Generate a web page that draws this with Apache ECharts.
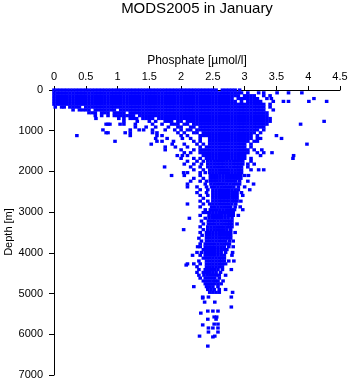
<!DOCTYPE html>
<html>
<head>
<meta charset="utf-8">
<script src="https://cdn.jsdelivr.net/npm/echarts@6/dist/echarts.min.js"></script>
<style>
  html, body { margin: 0; padding: 0; background: #fff; }
  #chart { width: 350px; height: 384px; }
</style>
</head>
<body>
<div id="chart"></div>
<script>
// Sampling depths (m) of the January phosphate profiles
const depthLevels = [0,70,140,210,280,350,420,490,560,630,700,770,840,910,980,1050,1120,1190,1260,1330,1400,1470,1540,1610,1680,1750,1820,1890,1960,2030,2100,2170,2240,2310,2380,2450,2520,2590,2660,2730,2800,2870,2940,3010,3080,3150,3220,3290,3360,3430,3500,3570,3640,3710,3780,3850,3920,3990,4060,4130,4200,4270,4340,4410,4480,4550,4620,4690,4760,4830,4900,4970];

// Phosphate observations (µmol/l) found at each depth level
const phosphateAtLevel = [
  [0,.05,.1,.15,.2,.25,.3,.35,.4,.45,.5,.55,.6,.65,.7,.75,.8,.85,.9,.95,1,1.05,1.1,1.15,1.2,1.25,1.3,1.35,1.4,1.45,1.5,1.55,1.6,1.65,1.7,1.75,1.8,1.85,1.9,1.95,2,2.05,2.1,2.15,2.2,2.25,2.3,2.35,2.4,2.45,2.5,2.55,2.65,2.7,2.75,2.8,2.85,2.92],
  [0,.05,.1,.15,.2,.25,.3,.35,.4,.45,.5,.55,.6,.65,.7,.75,.8,.85,.9,.95,1,1.05,1.1,1.15,1.2,1.25,1.3,1.35,1.4,1.45,1.5,1.55,1.6,1.65,1.7,1.75,1.8,1.85,1.9,1.95,2,2.05,2.1,2.15,2.2,2.25,2.3,2.35,2.4,2.45,2.5,2.55,2.6,2.65,2.7,2.75,2.8,2.85,2.9,2.95,3.05,3.22,3.3,3.51,3.69,3.9],
  [0,.05,.1,.15,.2,.25,.3,.35,.4,.45,.5,.55,.6,.65,.7,.75,.8,.85,.9,.95,1,1.05,1.1,1.15,1.2,1.25,1.3,1.35,1.4,1.45,1.5,1.55,1.6,1.65,1.7,1.75,1.8,1.85,1.9,1.95,2,2.05,2.1,2.15,2.2,2.25,2.3,2.35,2.4,2.45,2.5,2.55,2.6,2.65,2.7,2.75,2.8,2.85,2.9,3,3.05,3.1,3.15,3.3,3.4],
  [0,.05,.1,.15,.2,.25,.3,.35,.4,.45,.5,.55,.6,.65,.7,.75,.8,.85,.9,.95,1,1.05,1.1,1.15,1.2,1.25,1.3,1.35,1.4,1.45,1.5,1.55,1.6,1.65,1.7,1.75,1.8,1.85,1.9,1.95,2,2.05,2.1,2.15,2.2,2.25,2.3,2.35,2.4,2.45,2.5,2.55,2.6,2.65,2.7,2.75,2.8,2.9,2.95,3,3.05,3.1,3.15,3.2,3.35,3.42,4.09],
  [0,.05,.1,.15,.2,.25,.3,.35,.4,.45,.5,.55,.6,.65,.7,.75,.8,.85,.9,.95,1,1.05,1.1,1.15,1.2,1.25,1.3,1.35,1.4,1.45,1.5,1.55,1.6,1.65,1.7,1.75,1.8,1.85,1.9,1.95,2,2.05,2.1,2.15,2.2,2.25,2.3,2.35,2.4,2.45,2.5,2.55,2.6,2.65,2.7,2.75,2.8,2.85,2.95,3.05,3.1,3.15,3.2,3.25,3.45,3.61,3.69,4.01,4.29],
  [0,.05,.1,.15,.2,.25,.3,.35,.4,.45,.5,.55,.6,.65,.7,.75,.8,.85,.9,.95,1,1.05,1.1,1.15,1.2,1.25,1.3,1.35,1.4,1.45,1.5,1.55,1.6,1.65,1.7,1.75,1.8,1.85,1.9,1.95,2,2.05,2.1,2.15,2.2,2.25,2.3,2.35,2.4,2.45,2.5,2.55,2.6,2.65,2.7,2.75,2.8,2.85,2.9,2.95,3,3.05,3.1,3.15,3.2,3.25,3.3,3.4],
  [.02,.12,.16,.25,.3,.35,.4,.5,.55,.6,.65,.7,.75,.8,.85,.9,.95,1,1.05,1.1,1.15,1.2,1.25,1.3,1.35,1.4,1.45,1.5,1.55,1.6,1.65,1.7,1.75,1.8,1.85,1.9,1.95,2,2.05,2.1,2.15,2.2,2.25,2.3,2.35,2.4,2.45,2.5,2.55,2.6,2.65,2.7,2.75,2.8,2.85,2.9,2.95,3,3.05,3.1,3.15,3.2,3.25,3.3,3.4],
  [.3,.4,.45,.5,.55,.65,.7,.75,.8,.85,.9,.95,1.05,1.1,1.15,1.2,1.25,1.3,1.35,1.4,1.45,1.5,1.55,1.6,1.65,1.7,1.75,1.8,1.85,1.9,1.95,2,2.05,2.1,2.15,2.2,2.25,2.3,2.35,2.4,2.45,2.5,2.55,2.6,2.65,2.7,2.75,2.8,2.85,2.9,2.95,3,3.05,3.1,3.15,3.2,3.25,3.3,3.45],
  [.55,.6,.65,.75,.8,.85,.95,1,1.05,1.1,1.2,1.25,1.3,1.35,1.4,1.45,1.5,1.55,1.6,1.65,1.7,1.75,1.8,1.85,1.9,1.95,2,2.05,2.1,2.15,2.2,2.25,2.3,2.35,2.4,2.45,2.5,2.55,2.6,2.65,2.7,2.75,2.8,2.85,2.9,2.95,3,3.05,3.1,3.15,3.2,3.25,3.3,3.35],
  [.65,.75,.85,.95,1,1.05,1.1,1.15,1.2,1.25,1.35,1.4,1.45,1.5,1.55,1.6,1.65,1.7,1.75,1.8,1.85,1.9,1.95,2,2.05,2.1,2.15,2.2,2.25,2.3,2.35,2.4,2.45,2.5,2.55,2.6,2.65,2.7,2.75,2.8,2.85,2.9,2.95,3,3.05,3.1,3.15,3.2,3.25,3.3,3.35],
  [.66,1.02,1.1,1.2,1.25,1.3,1.4,1.45,1.5,1.55,1.65,1.7,1.75,1.8,1.85,1.9,1.95,2,2.05,2.1,2.15,2.2,2.25,2.3,2.35,2.4,2.45,2.5,2.55,2.6,2.65,2.7,2.75,2.8,2.85,2.9,2.95,3,3.05,3.1,3.15,3.2,3.25,3.3,3.35,3.4],
  [1.1,1.31,1.5,1.6,1.75,1.8,1.85,1.95,2,2.1,2.15,2.2,2.25,2.3,2.35,2.4,2.45,2.5,2.55,2.6,2.65,2.7,2.75,2.8,2.85,2.9,2.95,3,3.05,3.1,3.15,3.2,3.25,3.3,3.35,3.4,4.25],
  [.82,.85,.88,1.04,1.1,1.28,1.55,1.7,1.85,1.9,1.95,2.05,2.1,2.2,2.25,2.3,2.35,2.4,2.45,2.5,2.55,2.6,2.65,2.7,2.75,2.8,2.85,2.9,2.95,3,3.05,3.1,3.15,3.2,3.25,3.3,3.35,3.88],
  [1.28,1.45,1.6,1.8,1.95,2,2.15,2.2,2.3,2.35,2.4,2.45,2.5,2.55,2.6,2.65,2.7,2.75,2.8,2.85,2.9,2.95,3,3.05,3.1,3.15,3.2,3.25,3.3],
  [.77,1.2,1.34,1.41,1.55,1.75,1.9,2,2.1,2.15,2.25,2.3,2.35,2.4,2.45,2.5,2.55,2.6,2.65,2.7,2.75,2.8,2.85,2.9,2.95,3,3.05,3.1,3.15,3.2,3.3],
  [.82,.85,1.12,1.2,1.55,1.62,1.95,2.05,2.2,2.25,2.35,2.4,2.45,2.5,2.55,2.6,2.65,2.7,2.75,2.8,2.85,2.9,2.95,3,3.05,3.1,3.15,3.25],
  [.36,1.2,1.62,1.7,2,2.1,2.3,2.35,2.4,2.45,2.5,2.55,2.6,2.65,2.7,2.75,2.8,2.85,2.9,2.95,3,3.05,3.1,3.2,3.5],
  [1.6,1.78,2.02,2.15,2.3,2.45,2.5,2.55,2.6,2.65,2.7,2.75,2.8,2.85,2.9,2.95,3,3.05,3.1,3.2,3.25,3.58],
  [.96,1.62,1.7,1.88,2.2,2.3,2.45,2.5,2.55,2.6,2.65,2.7,2.75,2.8,2.85,2.9,2.95,3,3.05,3.15,3.2],
  [1.53,1.86,2.05,2.25,2.35,2.45,2.5,2.55,2.6,2.65,2.7,2.75,2.8,2.85,2.9,2.95,3,3.1,3.98],
  [1.75,1.91,2.1,2.3,2.4,2.45,2.5,2.55,2.6,2.65,2.7,2.75,2.8,2.85,2.9,2.95,3,3.1],
  [1.75,2,2.2,2.3,2.35,2.4,2.45,2.5,2.55,2.6,2.65,2.7,2.75,2.8,2.85,2.9,2.95,3,3.05,3.15,3.27],
  [2.05,2.15,2.3,2.35,2.4,2.45,2.5,2.55,2.6,2.65,2.7,2.75,2.8,2.85,2.9,2.95,3,3.05,3.2,3.3,3.43],
  [1.94,2.02,2.1,2.35,2.4,2.45,2.5,2.55,2.6,2.65,2.7,2.75,2.8,2.85,2.9,2.95,3,3.25,3.77],
  [2,2.2,2.3,2.4,2.45,2.5,2.55,2.6,2.65,2.7,2.75,2.8,2.85,2.9,2.95,3,3.1,3.76],
  [2.1,2.25,2.35,2.42,2.47,2.52,2.57,2.62,2.67,2.72,2.77,2.82,2.87,2.92,2.97,3.1],
  [2.05,2.2,2.32,2.42,2.47,2.52,2.57,2.62,2.67,2.72,2.77,2.82,2.87,2.92,2.97,3.05,3.15],
  [1.74,2.15,2.3,2.42,2.47,2.52,2.57,2.62,2.67,2.72,2.77,2.82,2.87,2.91,2.95,3.05],
  [2.2,2.35,2.45,2.5,2.55,2.6,2.65,2.7,2.75,2.8,2.85,2.9,2.95,3.1,3.22,3.3],
  [2.04,2.1,2.3,2.38,2.45,2.5,2.55,2.6,2.65,2.7,2.75,2.8,2.85,2.9,2.95],
  [1.85,2.05,2.3,2.46,2.51,2.56,2.61,2.66,2.71,2.76,2.81,2.86,2.9,2.94,3,3.06],
  [2.2,2.35,2.46,2.51,2.56,2.61,2.66,2.71,2.76,2.81,2.86,2.9,2.94],
  [2.15,2.3,2.4,2.46,2.51,2.56,2.61,2.66,2.71,2.76,2.81,2.86,2.92,3.05],
  [2.1,2.38,2.47,2.52,2.57,2.62,2.67,2.72,2.77,2.82,2.87,2.92,3.14],
  [2.1,2.25,2.4,2.48,2.53,2.58,2.63,2.68,2.73,2.78,2.83,2.9,3],
  [2.3,2.42,2.5,2.55,2.6,2.65,2.7,2.75,2.8,2.85,2.9,3.08],
  [2.25,2.4,2.5,2.55,2.6,2.65,2.7,2.75,2.8,2.84,2.88,2.95],
  [2.3,2.42,2.5,2.55,2.6,2.65,2.7,2.75,2.8,2.84,2.88,2.97],
  [2.35,2.5,2.55,2.6,2.65,2.7,2.75,2.8,2.84,2.88],
  [2.3,2.42,2.5,2.55,2.6,2.65,2.7,2.75,2.8,2.84,2.88,2.94],
  [2.1,2.35,2.45,2.5,2.55,2.6,2.65,2.7,2.75,2.8,2.86],
  [2.3,2.48,2.53,2.58,2.63,2.68,2.73,2.78,2.85,2.93],
  [2.38,2.46,2.51,2.56,2.61,2.66,2.71,2.76,2.8,2.84,2.97],
  [2.35,2.4,2.45,2.5,2.55,2.6,2.65,2.7,2.75,2.78,2.82],
  [2.3,2.44,2.49,2.54,2.59,2.64,2.69,2.74,2.78,2.82,2.9],
  [2.13,2.38,2.44,2.49,2.54,2.59,2.64,2.69,2.74,2.8],
  [2.32,2.43,2.48,2.53,2.58,2.63,2.68,2.73,2.77,2.8],
  [2.35,2.43,2.48,2.53,2.58,2.63,2.68,2.73,2.77,2.8,2.88],
  [2.3,2.42,2.47,2.52,2.57,2.62,2.67,2.72,2.76,2.8],
  [2.04,2.35,2.42,2.47,2.52,2.57,2.62,2.67,2.72,2.78],
  [2.3,2.4,2.45,2.5,2.55,2.6,2.65,2.7,2.74,2.78,2.85],
  [2.33,2.4,2.45,2.5,2.55,2.6,2.65,2.7,2.74,2.78],
  [2.28,2.4,2.45,2.5,2.55,2.6,2.65,2.7,2.74,2.78],
  [2.32,2.4,2.45,2.5,2.55,2.6,2.65,2.7,2.76,2.82],
  [2.3,2.38,2.43,2.48,2.53,2.58,2.63,2.68,2.72,2.76],
  [2.26,2.3,2.38,2.43,2.48,2.53,2.58,2.63,2.68,2.75,2.82],
  [2.35,2.38,2.43,2.48,2.53,2.58,2.63,2.68,2.72],
  [2.25,2.32,2.38,2.43,2.48,2.53,2.58,2.63,2.7,2.81],
  [2.18,2.3,2.38,2.43,2.48,2.53,2.58,2.63,2.68,2.8],
  [2.35,2.4,2.45,2.5,2.55,2.6,2.64,2.68],
  [2.28,2.4,2.45,2.5,2.55,2.6,2.64,2.68,2.75,2.83],
  [2.1,2.2,2.3,2.4,2.45,2.5,2.55,2.6,2.65,2.7],
  [2.25,2.4,2.45,2.5,2.55,2.6,2.65],
  [2.28,2.38,2.43,2.48,2.53,2.58,2.65,2.79],
  [2.25,2.35,2.4,2.45,2.5,2.55,2.62],
  [2.28,2.36,2.41,2.46,2.51,2.56,2.6,2.7],
  [2.3,2.38,2.43,2.48,2.53,2.6],
  [2.35,2.4,2.45,2.5,2.54,2.58,2.66],
  [2.38,2.43,2.48,2.53,2.58,2.63],
  [2.2,2.4,2.45,2.5,2.58],
  [2.42,2.47,2.52,2.6,2.7],
  [2.45,2.5,2.55,2.6,2.81]
];

// Deep, isolated observations below the main column
const isolatedDepth     = [4300,5085,5085,5085,5110,5210,5210,5330,5430,5430,5430,5480,5575,5575,5630,5630,5750,5750,5770,5845,5845,5845,5945,5945,6045,6045,6065,6290];
const isolatedPhosphate = [2.08,2.34,2.43,2.79,2.34,2.37,2.53,2.79,2.42,2.5,2.58,2.31,2.52,2.56,2.42,2.55,2.52,2.58,2.34,2.43,2.5,2.58,2.43,2.58,2.29,2.53,2.5,2.42];

const xTicks = [0, 0.5, 1, 1.5, 2, 2.5, 3, 3.5, 4, 4.5];
const yTicks = [0, 1000, 2000, 3000, 4000, 5000, 6000, 7000];

const points = [];
depthLevels.forEach((d, i) => {
  phosphateAtLevel[i].forEach(p => points.push([p, d]));
});
isolatedDepth.forEach((d, i) => points.push([isolatedPhosphate[i], d]));

const FONT = '"Liberation Sans", Arial, Helvetica, sans-serif';
const chart = echarts.init(document.getElementById('chart'), null, { renderer: 'canvas' });

chart.setOption({
  animation: false,
  backgroundColor: '#ffffff',
  // Chart title and axis titles
  graphic: [{
    type: 'text',
    x: 197,
    y: 9,
    style: {
      text: 'MODS2005 in January',
      fill: '#000',
      font: '15px ' + FONT,
      align: 'center',
      verticalAlign: 'middle'
    }
  }, {
    type: 'text',
    x: 197,
    y: 61,
    style: {
      text: 'Phosphate [\u00b5mol/l]',
      fill: '#000',
      font: '12px ' + FONT,
      align: 'center',
      verticalAlign: 'middle'
    }
  }, {
    type: 'text',
    x: 9,
    y: 232,
    rotation: Math.PI / 2,
    style: {
      text: 'Depth [m]',
      fill: '#000',
      font: '11px ' + FONT,
      align: 'center',
      verticalAlign: 'middle'
    }
  }],
  grid: { left: 54, top: 90, width: 286, height: 285, containLabel: false, outerBoundsMode: 'none' },
  xAxis: {
    type: 'value',
    position: 'top',
    min: xTicks[0],
    max: xTicks[xTicks.length - 1],
    interval: 0.5,
    axisLine: { show: true, onZero: false, lineStyle: { color: '#000', width: 1 } },
    axisTick: { show: true, inside: false, length: 4, lineStyle: { color: '#000' } },
    axisLabel: { fontFamily: FONT, fontSize: 11, color: '#000', margin: 8, formatter: v => String(v) },
    splitLine: { show: false }
  },
  yAxis: {
    type: 'value',
    inverse: true,
    min: yTicks[0],
    max: yTicks[yTicks.length - 1],
    interval: 1000,
    axisLine: { show: true, onZero: false, lineStyle: { color: '#000', width: 1 } },
    axisTick: { show: true, inside: false, length: 5, lineStyle: { color: '#000' } },
    axisLabel: { fontFamily: FONT, fontSize: 11, color: '#000', margin: 11, formatter: v => String(v) },
    splitLine: { show: false }
  },
  series: [{
    type: 'scatter',
    data: points,
    symbol: 'rect',
    symbolSize: [3.6, 3.2],
    large: false,
    clip: false,
    itemStyle: { color: '#0000ff', opacity: 1 },
    emphasis: { disabled: true }
  }]
});
</script>
</body>
</html>
